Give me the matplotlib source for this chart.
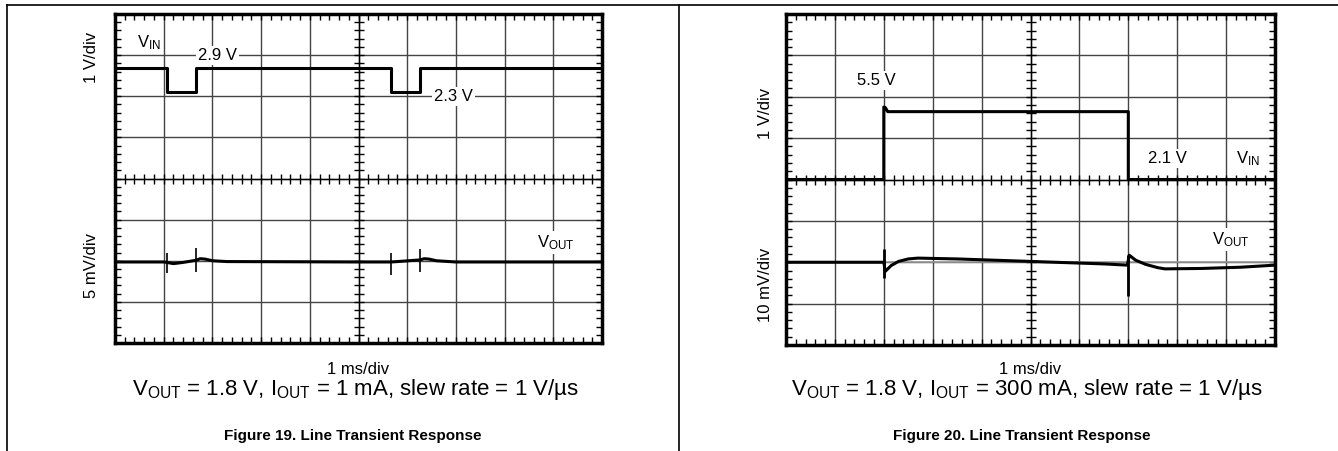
import matplotlib
matplotlib.use('Agg')
from matplotlib import pyplot as plt
from matplotlib.lines import Line2D
from matplotlib.ticker import MultipleLocator
import numpy as np

plt.rcParams['font.family'] = ['Liberation Sans', 'DejaVu Sans']
plt.rcParams['mathtext.default'] = 'regular'

W, H = 1338, 451

# scope traces, in screen divisions (10 x 8 grid)
# Figure 19, I_OUT = 1 mA
vin19_t = [0, 1.06, 1.06, 1.66, 1.66, 5.67, 5.67, 6.26, 6.26, 10]
vin19_v = [6.69, 6.69, 6.11, 6.11, 6.69, 6.69, 6.11, 6.11, 6.69, 6.69]
vout19_t = [0, 1.0, 1.06, 1.2, 1.4, 1.66, 1.75, 1.85, 2.0, 2.3, 5.0, 5.67, 5.8, 6.26, 6.35, 6.45, 6.6, 7.0, 10]
vout19_v = [1.97, 1.97, 1.96, 1.93, 1.96, 2.01, 2.05, 2.04, 2.0, 1.98, 1.97, 1.97, 1.98, 2.02, 2.05, 2.04, 2.0, 1.97, 1.97]
spike19_t = [1.06, 1.66, 5.67, 6.26]
spike19_lo = [1.71, 1.73, 1.66, 1.73]
spike19_hi = [2.19, 2.30, 2.19, 2.28]

# Figure 20, I_OUT = 300 mA
vin20_t = [0, 2.0, 2.0, 2.03, 2.08, 7.0, 7.0, 10]
vin20_v = [4.0, 4.0, 5.75, 5.74, 5.64, 5.64, 4.0, 4.0]
vout20_t = [0, 2.0, 2.03, 2.15, 2.3, 2.5, 2.7, 3.5, 4.5, 5.5, 6.5, 6.98, 7.02, 7.15, 7.35, 7.6, 7.75, 8.5, 9.3, 10]
vout20_v = [2.0, 2.0, 1.78, 1.92, 2.02, 2.08, 2.1, 2.08, 2.04, 2.0, 1.96, 1.93, 2.17, 2.05, 1.95, 1.87, 1.84, 1.85, 1.88, 1.93]
spike20_t = [2.0, 7.0]
spike20_lo = [1.62, 1.18]
spike20_hi = [2.32, 2.17]


def fx(x):
    return x / W


def fy(y):
    return 1 - y / H


def scope(ax):
    ax.set_xlim(0, 10)
    ax.set_ylim(0, 8)
    ax.set_xticks(range(11))
    ax.set_yticks(range(9))
    ax.xaxis.set_minor_locator(MultipleLocator(0.2))
    ax.yaxis.set_minor_locator(MultipleLocator(0.2))
    ax.tick_params(which='both', direction='in', top=True, right=True,
                   labelbottom=False, labelleft=False, length=4, width=1)
    ax.grid(True, color='#444444', lw=1)
    for s in ax.spines.values():
        s.set_linewidth(2.5)
    # center graticule with minor ticks
    ax.axhline(4, color='k', lw=1)
    ax.axvline(5, color='k', lw=1)
    mt = np.arange(0, 10.01, 0.2)
    ax.plot(mt, np.full_like(mt, 4), '|', color='k', ms=7, mew=1)
    mt = np.arange(0, 8.01, 0.2)
    ax.plot(np.full_like(mt, 5), mt, '_', color='k', ms=7, mew=1)


fig = plt.figure(figsize=(W / 100, H / 100), dpi=100)

# page frame
for xs, ys in [([7, W], [5, 5]), ([7, 7], [5, H]), ([679, 679], [5, H])]:
    fig.add_artist(Line2D([fx(x) for x in xs], [fy(y) for y in ys], color='k', lw=1.2))

box = dict(facecolor='white', edgecolor='none', pad=1.5)

# Figure 19
ax1 = fig.add_axes([fx(115), fy(343), fx(602 - 115), (343 - 14) / H])
scope(ax1)
ax1.plot(vin19_t, vin19_v, color='k', lw=2.2)
ax1.plot(vout19_t, vout19_v, color='k', lw=2.2)
ax1.vlines(spike19_t, spike19_lo, spike19_hi, color='k', lw=1.2)
ax1.text(0.7, 7.3, r'V$_{IN}$', fontsize=12, ha='center', va='center', bbox=box)
ax1.text(2.1, 7.0, '2.9 V', fontsize=12, ha='center', va='center', bbox=box)
ax1.text(6.95, 6.0, '2.3 V', fontsize=12, ha='center', va='center', bbox=box)
ax1.text(9.05, 2.45, r'V$_{OUT}$', fontsize=12, ha='center', va='center', bbox=box)

fig.text(fx(92), fy(57), '1 V/div', rotation=90, ha='center', va='center', fontsize=12)
fig.text(fx(92), fy(265), '5 mV/div', rotation=90, ha='center', va='center', fontsize=12)
fig.text(fx(358), fy(370), '1 ms/div', ha='center', va='center', fontsize=12)
fig.text(fx(355), fy(390),
         r'V$_{OUT}$ = 1.8 V, I$_{OUT}$ = 1 mA, slew rate = 1 V/µs',
         ha='center', va='center', fontsize=16)
fig.text(fx(353), fy(436), 'Figure 19. Line Transient Response',
         ha='center', va='center', fontsize=11, fontweight='bold')

# Figure 20
ax2 = fig.add_axes([fx(786), fy(345), fx(1275 - 786), (345 - 14) / H])
scope(ax2)
ax2.plot(vout20_t, np.full(len(vout20_t), 2.0), color='#999999', lw=1.2)
ax2.plot(vin20_t, vin20_v, color='k', lw=2.2)
ax2.plot(vout20_t, vout20_v, color='k', lw=2.2)
ax2.vlines(spike20_t, spike20_lo, spike20_hi, color='k', lw=2)
ax2.text(1.85, 6.4, '5.5 V', fontsize=12, ha='center', va='center', bbox=box)
ax2.text(7.8, 4.5, '2.1 V', fontsize=12, ha='center', va='center', bbox=box)
ax2.text(9.45, 4.5, r'V$_{IN}$', fontsize=12, ha='center', va='center', bbox=box)
ax2.text(9.1, 2.55, r'V$_{OUT}$', fontsize=12, ha='center', va='center', bbox=box)

fig.text(fx(765), fy(113), '1 V/div', rotation=90, ha='center', va='center', fontsize=12)
fig.text(fx(765), fy(285), '10 mV/div', rotation=90, ha='center', va='center', fontsize=12)
fig.text(fx(1030), fy(370), '1 ms/div', ha='center', va='center', fontsize=12)
fig.text(fx(1027), fy(390),
         r'V$_{OUT}$ = 1.8 V, I$_{OUT}$ = 300 mA, slew rate = 1 V/µs',
         ha='center', va='center', fontsize=16)
fig.text(fx(1022), fy(436), 'Figure 20. Line Transient Response',
         ha='center', va='center', fontsize=11, fontweight='bold')

fig.savefig('out.png', dpi=100)
plt.close(fig)
